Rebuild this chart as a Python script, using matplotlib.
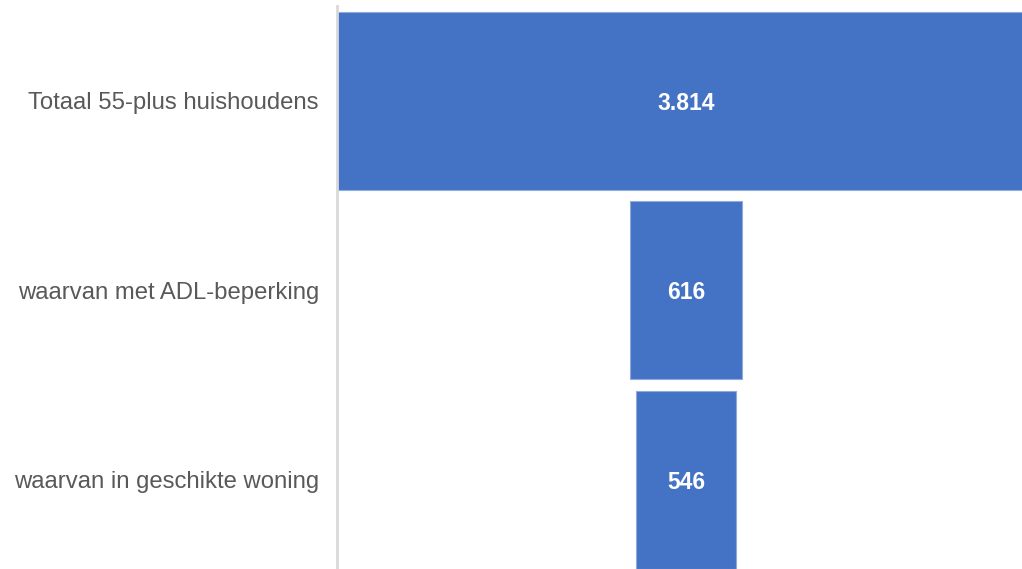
import matplotlib
matplotlib.use('Agg')
import matplotlib.pyplot as plt

# funnel data
categories = ['Totaal 55-plus huishoudens', 'waarvan met ADL-beperking', 'waarvan in geschikte woning']
values = [3814, 616, 546]
value_labels = ['3.814', '616', '546']

plt.rcParams['font.family'] = ['Liberation Sans', 'DejaVu Sans']

fig = plt.figure(figsize=(10.22, 5.69), dpi=100)
ax = fig.add_axes([337 / 1022, 0, 685 / 1022, (569 - 6) / 569])

lefts = [-v / 2 for v in values]
ax.barh(range(len(values)), values, left=lefts, height=0.94,
        color='#4472C4', edgecolor='#8FAADC', linewidth=0.8)

for i, lab in enumerate(value_labels):
    ax.text(0, i, lab, ha='center', va='center_baseline', color='white',
            fontsize=16.5, fontweight='bold')

# the big bar is a bit wider than the plot area, so it gets clipped on the right
ax.set_xlim(-1903, 1832)
ax.set_ylim(2 + 89 / 189.5, -0.5)
ax.set_yticks(range(len(categories)))
ax.set_yticklabels(categories, fontsize=17.2, color='#595959')
ax.tick_params(axis='y', length=0, pad=13)
ax.set_xticks([])
for s in ['top', 'right', 'bottom']:
    ax.spines[s].set_visible(False)
ax.spines['left'].set_color('#D9D9D9')
ax.spines['left'].set_linewidth(2)
ax.spines['left'].set_zorder(3)

fig.savefig('out.png', dpi=100)
